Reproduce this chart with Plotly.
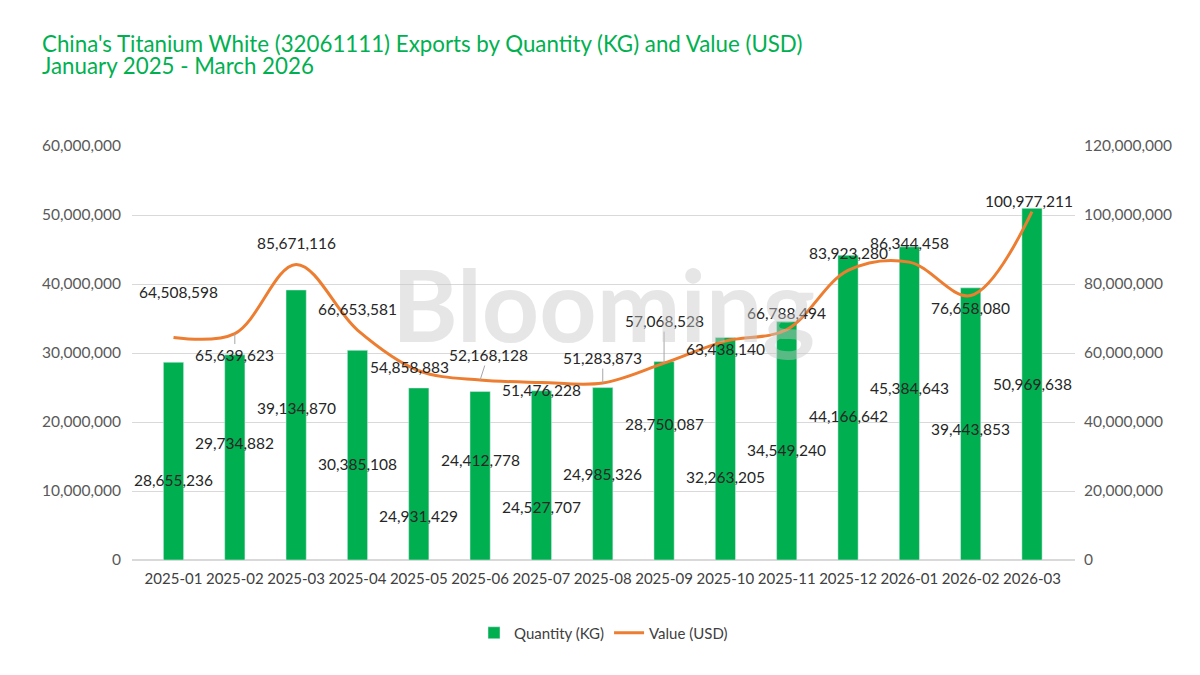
import plotly.graph_objects as go

months = ["2025-01", "2025-02", "2025-03", "2025-04", "2025-05", "2025-06", "2025-07",
          "2025-08", "2025-09", "2025-10", "2025-11", "2025-12", "2026-01", "2026-02", "2026-03"]
quantity_kg = [28655236, 29734882, 39134870, 30385108, 24931429, 24412778, 24527707,
               24985326, 28750087, 32263205, 34549240, 44166642, 45384643, 39443853, 50969638]
value_usd = [64508598, 65639623, 85671116, 66653581, 54858883, 52168128, 51476228,
             51283873, 57068528, 63438140, 66788494, 83923280, 86344458, 76658080, 100977211]
title_lines = ["China's Titanium White (32061111) Exports by Quantity (KG) and Value (USD)",
               "January 2025 - March 2026"]

# label placement (layout only)
bar_label_y = [11.6e6, 17.0e6, 22.0e6, 13.9e6, 6.4e6, 14.5e6, 7.7e6, 12.5e6, 19.7e6,
               12.0e6, 16.0e6, 20.9e6, 25.0e6, 19.0e6, 25.5e6]
line_label_shift = [45, -21, 21, 21, 4, 25, -8, 25, 42, -8, 17, 17, 19, -12, 11]
line_label_dx = [5, 0, 0, 0, -9, 8, 0, 0, 0, 0, 0, 0, 0, 0, -3]
leader = [False, True, False, False, False, True, False, True, True, False, False, False, False, False, False]

GREEN = "#00B050"
ORANGE = "#ED7D31"
FONT = "Lato"
LBL = dict(family=FONT, size=15.5, color="#262626")

fig = go.Figure()
fig.add_trace(go.Bar(x=months, y=quantity_kg, name="Quantity (KG)", marker_color=GREEN,
                     width=0.33, yaxis="y"))
fig.add_trace(go.Scatter(x=months, y=value_usd, name="Value (USD)", mode="lines",
                         line=dict(color=ORANGE, width=3, shape="spline", smoothing=1.0),
                         yaxis="y2"))

ann = []
for m, v, ly in zip(months, quantity_kg, bar_label_y):
    ann.append(dict(x=m, y=ly, xref="x", yref="y", text=f"{v:,}", showarrow=False, font=LBL))
for m, v, s, dx, ld in zip(months, value_usd, line_label_shift, line_label_dx, leader):
    if ld:
        ann.append(dict(x=m, y=v, xref="x", yref="y2", text=f"{v:,}", showarrow=True,
                        arrowhead=0, arrowwidth=1, arrowcolor="#A6A6A6", ax=dx, ay=-s,
                        standoff=0, font=LBL))
    else:
        ann.append(dict(x=m, y=v, xref="x", yref="y2", text=f"{v:,}", showarrow=False,
                        yshift=s, xshift=dx, font=LBL))

# title lines
PLOT_TOP, PLOT_BOT = 146, 560
def py(p):
    return (PLOT_BOT - p) / (PLOT_BOT - PLOT_TOP)
for t, yy in zip(title_lines, [43, 65]):
    ann.append(dict(x=(40 - 132) / (1200 - 132 - 125), y=py(yy), xref="paper", yref="paper",
                    text=t, showarrow=False, xanchor="left", yanchor="middle",
                    font=dict(family=FONT, size=22.3, color=GREEN)))

# watermark
ann.append(dict(x=0.5, y=0.62, xref="paper", yref="paper", text="<b>Blooming</b>",
                showarrow=False, font=dict(family=FONT, size=100, color="rgba(200,200,200,0.45)")))

fig.update_layout(
    width=1200, height=675,
    paper_bgcolor="white", plot_bgcolor="white",
    margin=dict(l=132, r=125, t=146, b=115),
    bargap=0.67,
    xaxis=dict(type="category", showgrid=False, showline=False, ticks="", tickangle=0,
               tickfont=dict(family=FONT, size=15, color="#404040"), ticklabelstandoff=8),
    yaxis=dict(range=[0, 60e6], dtick=10e6, tickformat=",d", showgrid=True,
               gridcolor="#D9D9D9", gridwidth=1, zeroline=True, zerolinecolor="#D9D9D9",
               tickfont=dict(family=FONT, size=15.5, color="#595959"), ticklabelstandoff=10),
    yaxis2=dict(range=[0, 120e6], dtick=20e6, tickformat=",d", overlaying="y", side="right",
                showgrid=False, zeroline=False,
                tickfont=dict(family=FONT, size=15.5, color="#595959"), ticklabelstandoff=8),
    legend=dict(orientation="h", x=0.5, xanchor="center", y=py(633), yanchor="middle",
                font=dict(family=FONT, size=15, color="#404040"), traceorder="normal",
                itemwidth=30),
    annotations=ann,
    showlegend=True,
)

fig.write_html("out.html")
